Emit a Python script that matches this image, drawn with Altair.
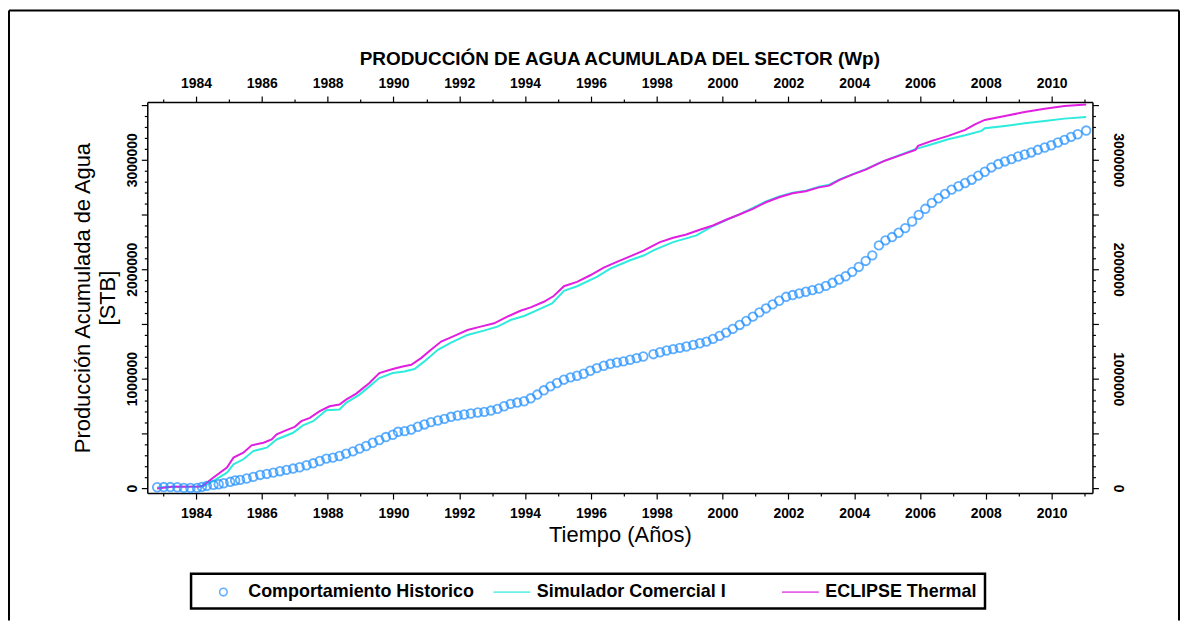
import altair as alt
import pandas as pd

SERIES = ["Comportamiento Historico", "Simulador Comercial I", "ECLIPSE Thermal"]
COLORS = ["#1E8FFF", "#2EEBDD", "#E01FE0"]
TITLE = "PRODUCCIÓN DE AGUA ACUMULADA DEL SECTOR (Wp)"

hist_years = [1982.82, 1983.02, 1983.22, 1983.43, 1983.63, 1983.83, 1984.03, 1984.18,
              1984.33, 1984.53, 1984.69, 1984.84, 1985.04, 1985.19, 1985.34, 1985.54, 1985.74, 1985.95,
              1986.15, 1986.35, 1986.55, 1986.75, 1986.95, 1987.15, 1987.36, 1987.56, 1987.76, 1987.96,
              1988.16, 1988.36, 1988.56, 1988.77, 1988.97, 1989.17, 1989.37, 1989.57, 1989.77, 1989.98,
              1990.14, 1990.34, 1990.54, 1990.74, 1990.94, 1991.14, 1991.35, 1991.55, 1991.75, 1991.95,
              1992.15, 1992.35, 1992.56, 1992.76, 1992.96, 1993.16, 1993.36, 1993.56, 1993.76, 1993.97,
              1994.17, 1994.37, 1994.57, 1994.77, 1994.97, 1995.18, 1995.38, 1995.58, 1995.78, 1995.98,
              1996.18, 1996.39, 1996.59, 1996.79, 1996.99, 1997.19, 1997.39, 1997.59,
              1997.90, 1998.10, 1998.30, 1998.50, 1998.70, 1998.90, 1999.11, 1999.31, 1999.51, 1999.71,
              1999.91, 2000.11, 2000.31, 2000.52, 2000.72, 2000.92, 2001.12, 2001.32, 2001.52, 2001.72,
              2001.93, 2002.13, 2002.33, 2002.53, 2002.73, 2002.93, 2003.14, 2003.34, 2003.54, 2003.74,
              2003.94, 2004.14, 2004.35,
              2004.55, 2004.75, 2004.95, 2005.15, 2005.35, 2005.55, 2005.76, 2005.96, 2006.16, 2006.36,
              2006.56, 2006.76, 2006.96, 2007.17, 2007.37, 2007.57, 2007.77, 2007.97, 2008.17, 2008.38,
              2008.58, 2008.78, 2008.98, 2009.18, 2009.38, 2009.58, 2009.79, 2009.99, 2010.19, 2010.39,
              2010.59, 2010.79, 2011.05]
hist_values = [8, 10, 10, 8, 3, 2, 3, 12,
               21, 30, 36, 45, 58, 70, 76, 88, 103, 121,
               130, 142, 155, 167, 179, 191, 209, 227, 248, 270,
               279, 294, 315, 336, 361, 385, 415, 439, 467, 488,
               515, 521, 536, 561, 582, 603, 618, 633, 652, 664,
               673, 682, 691, 697, 709, 724, 748, 770, 782, 794,
               821, 855, 894, 930, 961, 991, 1012, 1027, 1045, 1073,
               1097, 1118, 1136, 1148, 1158, 1173, 1188, 1203,
               1224, 1242, 1258, 1270, 1282, 1294, 1309, 1324, 1339, 1364,
               1391, 1421, 1455, 1491, 1527, 1567, 1606, 1642, 1679, 1712,
               1748, 1764, 1779, 1794, 1809, 1824, 1848, 1876, 1906, 1936,
               1976, 2021, 2076,
               2127, 2218, 2264, 2294, 2333, 2376, 2436, 2497, 2552, 2606,
               2648, 2688, 2727, 2758, 2788, 2818, 2855, 2891, 2930, 2961,
               2985, 3006, 3030, 3048, 3067, 3091, 3112, 3133, 3158, 3182,
               3209, 3233, 3267]

sim_years = [1982.82, 1983.3, 1984.1, 1984.25, 1984.53, 1984.94, 1985.14, 1985.44, 1985.74, 1986.15,
             1986.45, 1986.95, 1987.25, 1987.56, 1987.96, 1988.36, 1988.56, 1988.97, 1989.27, 1989.57,
             1989.98, 1990.33, 1990.64, 1990.94, 1991.35, 1991.75, 1992.25, 1992.75, 1993.16, 1993.56,
             1993.97, 1994.37, 1994.82, 1995.18, 1995.58, 1996.18, 1996.59, 1997.19, 1997.60, 1997.95,
             1998.50, 1999.21, 1999.71, 2000.11, 2000.51, 2000.92, 2001.32, 2001.72, 2002.13, 2002.53,
             2002.93, 2003.24, 2003.54, 2003.94, 2004.35, 2004.75, 2005.35, 2005.86, 2006.36, 2006.86,
             2007.37, 2007.87, 2007.97, 2008.58, 2009.18, 2009.79, 2010.39, 2011.05]
sim_values = [5, 12, 15, 20, 67, 142, 218, 264, 339, 370,
              445, 506, 573, 612, 712, 718, 779, 855, 930, 1006,
              1052, 1066, 1088, 1158, 1264, 1330, 1400, 1439, 1476, 1536,
              1573, 1627, 1688, 1803, 1845, 1930, 2006, 2082, 2125, 2179,
              2248, 2309, 2395, 2450, 2502, 2560, 2620, 2665, 2700, 2718,
              2755, 2772, 2818, 2866, 2915, 2970, 3040, 3097, 3142, 3188,
              3224, 3264, 3288, 3309, 3333, 3355, 3376, 3391]

ecl_years = [1982.82, 1983.25, 1984.1, 1984.2, 1984.53, 1984.94, 1985.14, 1985.44, 1985.69, 1986.05,
             1986.30, 1986.45, 1986.75, 1987.0, 1987.2, 1987.46, 1987.76, 1988.06, 1988.36, 1988.56,
             1988.87, 1989.02, 1989.27, 1989.57, 1989.98, 1990.28, 1990.54, 1990.84, 1991.14, 1991.45,
             1991.85, 1992.25, 1992.65, 1993.06, 1993.46, 1993.86, 1994.17, 1994.57, 1994.87, 1995.18,
             1995.58, 1995.98, 1996.39, 1996.79, 1997.19, 1997.60, 1997.95, 1998.10, 1998.50, 1998.90,
             1999.31, 1999.71, 2000.11, 2000.51, 2000.92, 2001.32, 2001.72, 2002.13, 2002.53, 2002.93,
             2003.24, 2003.54, 2003.94, 2004.35, 2004.75, 2004.95, 2005.35, 2005.86, 2005.94, 2006.36,
             2006.86, 2007.37, 2007.67, 2007.97, 2008.58, 2009.18, 2009.79, 2010.39, 2011.05]
ecl_values = [-3, 12, 15, 20, 97, 188, 279, 324, 391, 415,
              445, 491, 530, 560, 612, 642, 703, 748, 764, 809,
              864, 900, 961, 1052, 1088, 1112, 1127, 1188, 1264, 1339,
              1391, 1445, 1476, 1506, 1567, 1621, 1652, 1703, 1755, 1845,
              1885, 1945, 2015, 2067, 2118, 2170, 2225, 2248, 2288, 2318,
              2361, 2400, 2452, 2500, 2552, 2612, 2658, 2694, 2712, 2748,
              2764, 2815, 2864, 2910, 2967, 2994, 3036, 3091, 3127, 3173,
              3218, 3273, 3324, 3364, 3400, 3436, 3467, 3491, 3506]

year_ticks = list(range(1983, 2012))
value_ticks = list(range(0, 3500001, 100000))

hist = pd.DataFrame({"year": hist_years, "value": [v * 1000 for v in hist_values], "series": SERIES[0]})
sim = pd.DataFrame({"year": sim_years, "value": [v * 1000 for v in sim_values], "series": SERIES[1]})
ecl = pd.DataFrame({"year": ecl_years, "value": [v * 1000 for v in ecl_values], "series": SERIES[2]})
one = pd.DataFrame({"k": [0]})

FONT = "Liberation Sans"
CIRCLE = "M0.38,0A0.38,0.38,0,1,1,-0.38,0A0.38,0.38,0,1,1,0.38,0Z"
LINE = "M-1.85,0H1.85"

xs = alt.Scale(domain=[1982.52, 2011.24], nice=False, zero=False)
ys = alt.Scale(domain=[-45000, 3527000], nice=False, zero=False)
cs = alt.Scale(domain=SERIES, range=COLORS)
ss = alt.Scale(domain=SERIES, range=[CIRCLE, LINE, LINE])

common = dict(labelFont=FONT, labelFontSize=14, labelFontWeight="bold", labelColor="black",
              titleFont=FONT, titleFontSize=22, titleFontWeight="normal", titleColor="black",
              domainColor="black", domainWidth=1.5, tickColor="black", tickWidth=1.2,
              labelOverlap=False, labelFlush=False, grid=False)

x_tick = {"condition": {"test": "datum.value % 2 === 0", "value": 6}, "value": 3}
y_tick = {"condition": {"test": "datum.value % 500000 === 0", "value": 6}, "value": 3}
x_lab = "datum.value % 2 === 0 ? datum.label : ''"
y_lab = "datum.value % 1000000 === 0 ? datum.label : ''"

x_bottom = alt.Axis(orient="bottom", values=year_ticks, format="d", labelExpr=x_lab, tickSize=x_tick,
                    labelPadding=8, title="Tiempo (Años)", titlePadding=4, **common)
x_top = alt.Axis(orient="top", values=year_ticks, format="d", labelExpr=x_lab, tickSize=x_tick,
                 labelPadding=6, title=None, **common)
y_left = alt.Axis(orient="left", values=value_ticks, format="d", labelExpr=y_lab, tickSize=y_tick,
                  labelAngle=270, labelPadding=2, title=["Producción Acumulada de Agua", "[STB]"],
                  titlePadding=6, titleLineHeight=25, **common)
y_right = alt.Axis(orient="right", values=value_ticks, format="d", labelExpr=y_lab, tickSize=y_tick,
                   labelAngle=90, labelPadding=12, title=None, **common)

sim_line = alt.Chart(sim).mark_line(strokeWidth=2).encode(
    x=alt.X("year:Q", scale=xs, axis=x_bottom),
    y=alt.Y("value:Q", scale=ys, axis=y_left),
    color=alt.Color("series:N", scale=cs, legend=None),
)
ecl_line = alt.Chart(ecl).mark_line(strokeWidth=2).encode(
    x=alt.X("year:Q", scale=xs, axis=None),
    y=alt.Y("value:Q", scale=ys, axis=None),
    color=alt.Color("series:N", scale=cs, legend=None),
)
legend = alt.Legend(orient="none", legendX=44, legendY=474, direction="horizontal", columns=3,
                    gridAlign="all", title=None, labelFont=FONT, labelFontSize=18,
                    labelFontWeight="bold", labelColor="black", labelLimit=600, symbolSize=400,
                    symbolStrokeWidth=1.6, symbolOffset=14, labelOffset=14, columnPadding=12,
                    padding=7.5, strokeColor="black")
hist_pts = alt.Chart(hist).mark_point(filled=False, size=520, strokeWidth=1.8).encode(
    x=alt.X("year:Q", scale=xs, axis=x_top),
    y=alt.Y("value:Q", scale=ys, axis=y_right),
    color=alt.Color("series:N", scale=cs, legend=legend),
    shape=alt.Shape("series:N", scale=ss, legend=legend),
)

title_text = alt.Chart(one).mark_text(text=TITLE, font=FONT, fontSize=19, fontWeight="bold",
                                      color="black", align="center", baseline="middle").encode(
    x=alt.value(475), y=alt.value(-43))

frame_left = alt.Chart(one).mark_rule(color="black", strokeWidth=2).encode(
    x=alt.value(-139), y=alt.value(-92), y2=alt.value(521))
frame_right = alt.Chart(one).mark_rule(color="black", strokeWidth=2).encode(
    x=alt.value(1037), y=alt.value(-92), y2=alt.value(521))
frame_top = alt.Chart(one).mark_rule(color="black", strokeWidth=2).encode(
    x=alt.value(-139), x2=alt.value(1037), y=alt.value(-92))

chart = alt.layer(sim_line, ecl_line, hist_pts, title_text, frame_left, frame_right, frame_top).resolve_axis(
    x="independent", y="independent"
).resolve_legend(
    color="independent", shape="independent"
).properties(
    width=950, height=393, padding=0,
).configure_view(stroke=None).configure_legend(strokeWidth=2.5)

chart.save("out.html", embed_options={"renderer": "svg", "actions": False})
